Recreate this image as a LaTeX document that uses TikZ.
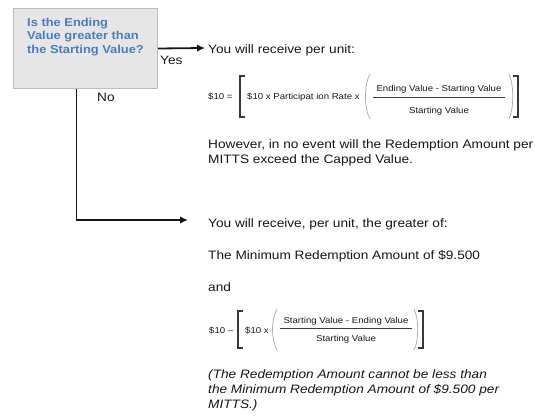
\documentclass[tikz,border=0pt]{standalone}
\usepackage{fontspec}
\setmainfont{Liberation Sans}[FakeStretch=1.12]
\usetikzlibrary{arrows.meta}
\definecolor{qblue}{HTML}{4A7DBA}
\definecolor{boxfill}{HTML}{E6E6E6}
\definecolor{boxline}{HTML}{BDBDBD}
\definecolor{txt}{HTML}{161616}
\begin{document}
\begin{tikzpicture}[x=1pt,y=-1pt,
  body/.style={anchor=west,inner sep=0pt,text=txt,font=\fontsize{12.2}{15}\selectfont,align=left},
  small/.style={inner sep=0pt,text=txt,font=\fontsize{8.6}{10}\selectfont},
  brk/.style={line width=1.4pt,draw=txt!85},
  prn/.style={line width=0.7pt,draw=gray!70},
  fracline/.style={line width=0.8pt,draw=txt!85},
  flow/.style={line width=1.8pt,draw=txt,-{Latex[length=8pt,width=7.5pt]}},
]
\useasboundingbox (0,0) rectangle (535,415);
% question box
\node[draw=boxline, fill=boxfill, line width=1pt, minimum width=144pt, minimum height=80pt, anchor=north west, inner sep=0pt] (q) at (13,8) {};
\node[anchor=west, inner sep=0pt, text=qblue, font=\bfseries\fontsize{11.5}{13.5}\selectfont, align=left] (qt) at (27,37) {Is the Ending\\Value greater than\\the Starting Value?};
% connectors
\coordinate (yesend) at (205,48);
\coordinate (noend) at (188,220);
\draw[flow] (q.east) -- (yesend);
\draw[flow] ([xshift=-9pt]q.south) |- (noend);
\node[body] (yes) at (160,60) {Yes};
\node[body] (no) at (97,97) {No};
% upper branch
\node[body] (r1) at (208,50) {You will receive per unit:};
\node[small, anchor=west] (f1a) at (208,97) {\$10 =};
\draw[brk] (245,76) -- (240,76) -- (240,117) -- (245,117);
\node[small, anchor=west] (f1b) at (247,97) {\$10 x Participat ion Rate x};
\draw[prn] (370,74) .. controls (364,84) and (364,109) .. (370,119);
\node[small] (f1n) at (439,89) {Ending Value - Starting Value};
\draw[fracline] (373,97.5) -- (505,97.5);
\node[small] (f1d) at (439,111) {Starting Value};
\draw[prn] (509,74) .. controls (514,84) and (514,109) .. (509,119);
\draw[brk] (513,76) -- (518,76) -- (518,117) -- (513,117);
\node[body] (cap) at (208,152.5) {However, in no event will the Redemption Amount per\\MITTS exceed the Capped Value.};
% lower branch
\node[body] (r2) at (208,224) {You will receive, per unit, the greater of:};
\node[body] (min) at (208,256) {The Minimum Redemption Amount of \$9.500};
\node[body] (and) at (208,287) {and};
\node[small, anchor=west] (f2a) at (209,331) {\$10 --};
\draw[brk] (243,311) -- (238,311) -- (238,348) -- (243,348);
\node[small, anchor=west] (f2b) at (245,331) {\$10 x};
\draw[prn] (277,309) .. controls (271,319) and (271,340) .. (277,350);
\node[small] (f2n) at (346,321) {Starting Value - Ending Value};
\draw[fracline] (280,328) -- (412,328);
\node[small] (f2d) at (346,339) {Starting Value};
\draw[prn] (414,309) .. controls (419,319) and (419,340) .. (414,350);
\draw[brk] (418,311) -- (423,311) -- (423,348) -- (418,348);
\node[body, font=\itshape\fontsize{12.2}{15}\selectfont] (note) at (208,390) {(The Redemption Amount cannot be less than\\the Minimum Redemption Amount of \$9.500 per\\MITTS.)};
\end{tikzpicture}
\end{document}
